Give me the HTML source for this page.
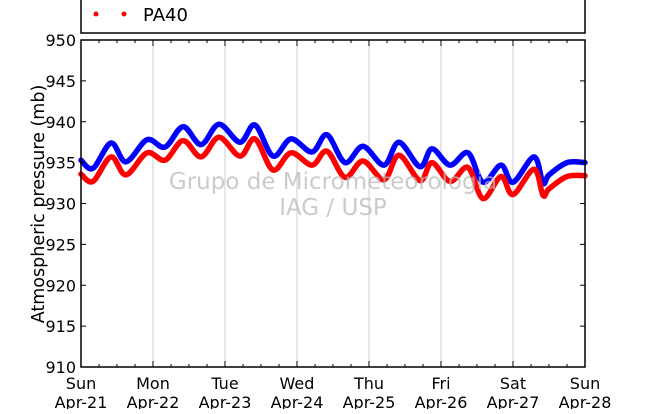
<!DOCTYPE html>
<html><head><meta charset="utf-8"><style>
body{margin:0;background:#fff;width:650px;height:409px;overflow:hidden}
svg text{font-family:"DejaVu Sans","Liberation Sans",sans-serif}
</style></head><body>
<svg id="chart" width="650" height="409" xmlns="http://www.w3.org/2000/svg">
<rect x="81" y="-5" width="504" height="38" fill="#fff" stroke="#000" stroke-width="1.5"/>
<g>
<circle cx="96" cy="14" r="2.5" fill="red"/><circle cx="124" cy="14" r="2.5" fill="red"/>
<text x="143" y="21" font-size="18">PA40</text></g>
<g id="grid"></g><g id="series"></g><g id="axes"></g>
<g fill="rgba(185,185,185,0.75)" font-size="23" text-anchor="middle">
<text x="333" y="189">Grupo de Micrometeorologia</text><text x="333" y="215">IAG / USP</text></g>
<text transform="translate(44,204) rotate(-90)" font-size="17.5" text-anchor="middle">Atmospheric pressure (mb)</text>
</svg>
<script>
const hours=[0,4,10,15,22,28,34,40,46,53,58,64,70,77,82,88,94,101,106,113,117,123,129,134,140,144,151,154,156,162,169,174,179,185,188];
const blueValues=[935.3,934.3,937.4,935.1,937.8,936.9,939.4,937.2,939.7,937.5,939.6,935.8,937.9,936.3,938.4,935.0,937.0,934.7,937.5,934.5,936.7,934.7,936.2,932.6,934.7,932.6,935.7,932.5,933.5,935.0,935.0,935.0,935.0,935.0,935.0];
const redValues=[933.6,932.7,935.7,933.5,936.2,935.3,937.7,935.7,938.1,935.8,937.9,934.1,936.2,934.7,936.4,933.2,935.2,932.9,935.9,932.8,935.0,932.7,934.4,930.6,933.3,931.1,934.2,931.0,931.8,933.3,933.4,933.4,933.4,933.4,933.4];
const yTicks=[910,915,920,925,930,935,940,945,950];
const dayNames=["Sun","Mon","Tue","Wed","Thu","Fri","Sat","Sun"];
const dayDates=["Apr-21","Apr-22","Apr-23","Apr-24","Apr-25","Apr-26","Apr-27","Apr-28"];
const X0=81,X1=585,Y0=40,Y1=367;
const xs=h=>X0+h/168*(X1-X0);
const ys=v=>Y1-(v-910)/40*(Y1-Y0);
const NS="http://www.w3.org/2000/svg";
function mk(t,a,p){const e=document.createElementNS(NS,t);for(const k in a)e.setAttribute(k,a[k]);p.appendChild(e);return e;}
const grid=document.getElementById('grid'),axes=document.getElementById('axes'),ser=document.getElementById('series');
for(let d=1;d<7;d++){const l=mk('line',{x1:xs(d*24),x2:xs(d*24),y1:Y0,y2:Y1,stroke:'#ccc','stroke-width':1},grid);

}
function path(vals,color,name){
const pts=[];hours.forEach((h,i)=>{const x=Math.min(xs(h),X1);if(pts.length&&pts[pts.length-1][0]>=x)return;pts.push([x,ys(vals[i])]);});
let d='M'+pts[0][0].toFixed(1)+','+pts[0][1].toFixed(1);
for(let i=0;i<pts.length-1;i++){const p0=pts[Math.max(0,i-1)],p1=pts[i],p2=pts[i+1],p3=pts[Math.min(pts.length-1,i+2)];
const c1=[p1[0]+(p2[0]-p0[0])/6,p1[1]+(p2[1]-p0[1])/6],c2=[p2[0]-(p3[0]-p1[0])/6,p2[1]-(p3[1]-p1[1])/6];
d+='C'+c1.map(v=>v.toFixed(1)).join(',')+' '+c2.map(v=>v.toFixed(1)).join(',')+' '+p2.map(v=>v.toFixed(1)).join(',');}
const p=mk('path',{d:d,fill:'none',stroke:color,'stroke-width':5.5,'stroke-linejoin':'round','stroke-linecap':'round'},ser);

}
path(blueValues,'#0000ff','series-blue');
path(redValues,'#ff0000','series-pa40');
const fr=mk('rect',{x:X0,y:Y0,width:X1-X0,height:Y1-Y0,fill:'none',stroke:'#000','stroke-width':1.5},axes);


yTicks.forEach(v=>{const y=ys(v);mk('line',{x1:X0,x2:X0+5,y1:y,y2:y,stroke:'#000'},axes);mk('line',{x1:X1,x2:X1-5,y1:y,y2:y,stroke:'#000'},axes);
const t=mk('text',{x:X0-5,y:y+6,'font-size':16,'text-anchor':'end'},axes);t.textContent=v;

});
for(let q=0;q<=28;q++){const x=xs(q*6),L=q%4?3:6;mk('line',{x1:x,x2:x,y1:Y1,y2:Y1-L,stroke:'#000'},axes);mk('line',{x1:x,x2:x,y1:Y0,y2:Y0+L,stroke:'#000'},axes);}
dayNames.forEach((n,i)=>{const x=xs(i*24);
const t=mk('text',{x:x,y:389,'font-size':16,'text-anchor':'middle'},axes);t.textContent=n;


const t2=mk('text',{x:x,y:408,'font-size':16,'text-anchor':'middle'},axes);t2.textContent=dayDates[i];

});
</script>
</body></html>
